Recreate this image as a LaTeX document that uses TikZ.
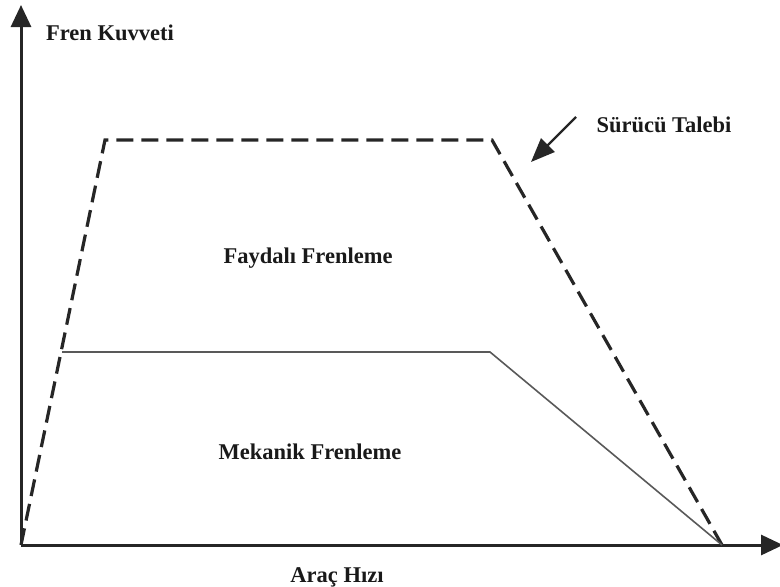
\documentclass[tikz,border=0pt]{standalone}
\usepackage{fontspec}
\setmainfont{Liberation Serif}
\usetikzlibrary{arrows.meta}
\begin{document}
\begin{tikzpicture}[x=1pt,y=-1pt,
  axis/.style={line width=3pt,draw=black!85,-{Triangle[width=20pt,length=22pt]}},
  demand/.style={line width=3.2pt,draw=black!85,dash pattern=on 17pt off 8pt},
  mech/.style={line width=1.6pt,draw=black!65},
  lbl/.style={font=\bfseries\fontsize{22.5}{26}\selectfont,text=black!90,inner sep=0pt},
  pointer/.style={line width=2.4pt,draw=black!85,-{Triangle[width=19pt,length=24pt]}}]
  \useasboundingbox (0,0) rectangle (780,587);

  % axes
  \coordinate (O) at (21,545);
  \coordinate (ytip) at (21,5);
  \coordinate (xtip) at (783,545);
  \draw[axis] (O) -- (ytip);
  \draw[axis] (O) -- (xtip);

  % corner points of the curves
  \coordinate (d1) at (105,140);
  \coordinate (d2) at (492,140);
  \coordinate (e)  at (722,545);
  \coordinate (m1) at (62,352);
  \coordinate (m2) at (490,352);

  % driver demand (dashed) and mechanical braking (solid)
  \draw[demand] (O) -- (d1) -- (d2) -- (e);
  \draw[mech] (m1) -- (m2) -- (e);

  % labels
  \node[lbl] (yl) at (110,33) {Fren Kuvveti};
  \node[lbl] (xl) at (337,577) {Araç Hızı};
  \node[lbl] (dl) at (664,125) {Sürücü Talebi};
  \node[lbl] (rb) at (308,258) {Faydalı Frenleme};
  \node[lbl] (mb) at (310,452) {Mekanik Frenleme};

  % pointer to the demand curve
  \coordinate (p0) at (576,117);
  \coordinate (p1) at (531,162);
  \draw[pointer] (p0) -- (p1);
\end{tikzpicture}
\end{document}
